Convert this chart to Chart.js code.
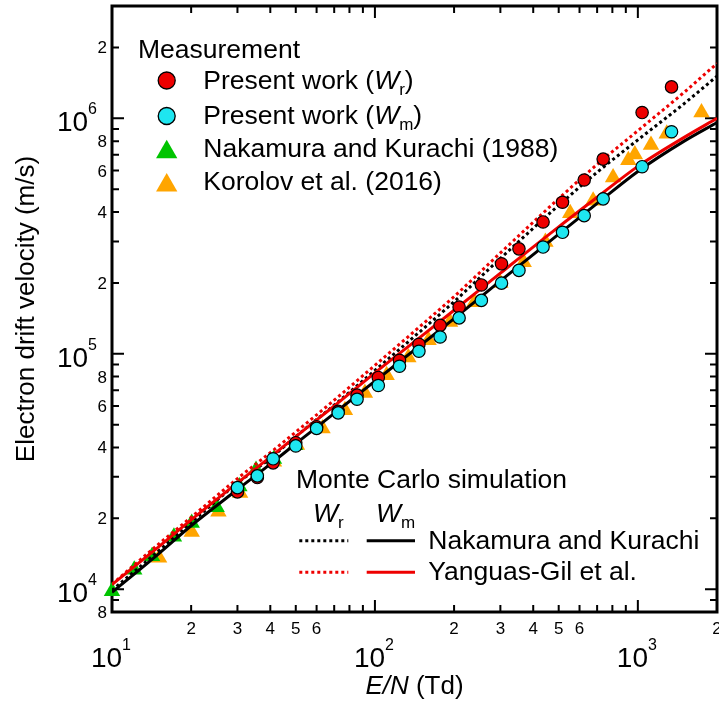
<!DOCTYPE html>
<html lang="en">
<head>
<meta charset="UTF-8">
<title>Electron drift velocity vs E/N</title>
<script src="https://cdn.jsdelivr.net/npm/chart.js"></script>
<style>
    html, body { margin: 0; padding: 0; background: #fff; }
    #wrap { width: 719px; height: 710px; }
</style>
</head>
<body>
<div id="wrap"><canvas id="chart" width="719" height="710"></canvas></div>
<script>
// --- measurements ---
const measEN = [30, 35.7, 41, 50, 60, 72.5, 85.5, 103, 124, 147, 177, 209, 254, 303, 353, 436, 517, 625, 738, 1038, 1343];
const presentWr = [2.59e4, 2.98e4, 3.44e4, 4.19e4, 4.9e4, 5.7e4, 6.67e4, 7.93e4, 9.38e4, 1.097e5, 1.32e5, 1.58e5, 1.96e5, 2.41e5, 2.79e5, 3.63e5, 4.4e5, 5.47e5, 6.71e5, 1.058e6, 1.36e6];
const presentWm = [2.70e4, 3.03e4, 3.58e4, 4.06e4, 4.82e4, 5.61e4, 6.41e4, 7.33e4, 8.85e4, 1.025e5, 1.178e5, 1.42e5, 1.685e5, 1.995e5, 2.26e5, 2.84e5, 3.28e5, 3.86e5, 4.55e5, 6.23e5, 8.77e5];

const nakamuraEN = [10, 12.15, 14.2, 17.2, 20.1, 25, 30.5, 35.3, 41.3, 49.7];
const nakamuraW = [9.8e3, 1.21e4, 1.38e4, 1.67e4, 1.91e4, 2.23e4, 2.73e4, 3.21e4, 3.57e4, 4.09e4];

const korolovEN = [15.1, 20.1, 25.4, 30.7, 41.3, 50.5, 63.2, 76.9, 91.6, 110.8, 134, 160, 193, 239, 300, 368, 445, 553, 676, 805, 920, 974, 1122, 1288, 1746];
const korolovW = [1.36e4, 1.75e4, 2.13e4, 2.56e4, 3.48e4, 4.1e4, 4.82e4, 5.76e4, 6.82e4, 8.1e4, 9.65e4, 1.14e5, 1.365e5, 1.655e5, 2.0e5, 2.45e5, 2.98e5, 3.95e5, 4.47e5, 5.61e5, 6.63e5, 7.02e5, 7.7e5, 8.6e5, 1.058e6];

// --- Monte Carlo simulation ---
const mcEN = [10, 15, 20, 30, 40, 50, 70, 100, 150, 200, 300, 500, 700, 1000, 1500, 2000];
const nkWm = [9.7e3, 1.41e4, 1.86e4, 2.65e4, 3.4e4, 4.15e4, 5.58e4, 7.65e4, 1.093e5, 1.41e5, 2.04e5, 3.22e5, 4.35e5, 5.95e5, 8.0e5, 9.6e5];
const nkWr = [9.9e3, 1.45e4, 1.92e4, 2.82e4, 3.6e4, 4.45e4, 6.05e4, 8.5e4, 1.255e5, 1.665e5, 2.54e5, 4.27e5, 5.9e5, 8.1e5, 1.155e6, 1.51e6];
const ygWm = [1.045e4, 1.51e4, 1.97e4, 2.83e4, 3.64e4, 4.45e4, 6.0e4, 8.3e4, 1.185e5, 1.53e5, 2.2e5, 3.46e5, 4.62e5, 6.25e5, 8.3e5, 1.0e6];
const ygWr = [1.05e4, 1.55e4, 2.02e4, 2.95e4, 3.8e4, 4.65e4, 6.35e4, 8.93e4, 1.32e5, 1.75e5, 2.68e5, 4.56e5, 6.37e5, 8.86e5, 1.29e6, 1.71e6];

// --- axis ticks ---
const xTickValues = [10, 20, 30, 40, 50, 60, 70, 80, 90, 100, 200, 300, 400, 500, 600, 700, 800, 900, 1000, 2000];
const xTickLabels = ['10^1', '2', '3', '4', '5', '6', '', '', '', '10^2', '2', '3', '4', '5', '6', '', '', '', '10^3', '2'];
const yTickValues = [8e3, 9e3, 1e4, 2e4, 3e4, 4e4, 5e4, 6e4, 7e4, 8e4, 9e4, 1e5, 2e5, 3e5, 4e5, 5e5, 6e5, 7e5, 8e5, 9e5, 1e6, 2e6, 3e6];
const yTickLabels = ['8', '', '10^4', '2', '', '4', '', '6', '', '8', '', '10^5', '2', '', '4', '', '6', '', '8', '', '10^6', '2', ''];

const FAM = "'Liberation Sans', Arial, sans-serif";
const RED = '#ee0000', CYAN = '#1ee6f0', GREEN = '#00c400', ORANGE = '#ffa500';
const DOTS = [3, 3];

function font(size, style) {
    return (style ? style + ' ' : '') + size + 'px ' + FAM;
}

function pts(xs, ys) {
    return xs.map((x, i) => ({ x: x, y: ys[i] }));
}

// text made of runs (for italics, sub- and superscripts)
function drawRich(ctx, runs, x, y, align) {
    let total = 0;
    runs.forEach(r => { ctx.font = r.font; r.w = ctx.measureText(r.text).width; total += r.w; });
    let cx = align === 'center' ? x - total / 2 : (align === 'right' ? x - total : x);
    ctx.textAlign = 'left';
    ctx.textBaseline = 'alphabetic';
    runs.forEach(r => {
        ctx.font = r.font;
        ctx.fillText(r.text, cx, y + (r.dy || 0));
        cx += r.w;
    });
}

function isMajor(v) {
    return Math.abs(Math.log10(v) - Math.round(Math.log10(v))) < 1e-9;
}

function circle(ctx, x, y, r, fill) {
    ctx.beginPath();
    ctx.arc(x, y, r, 0, Math.PI * 2);
    ctx.fillStyle = fill;
    ctx.fill();
    ctx.lineWidth = 1.3;
    ctx.strokeStyle = '#000';
    ctx.stroke();
}

function triangle(ctx, x, y, r, fill) {
    ctx.beginPath();
    for (let i = 0; i < 3; i++) {
        const a = i * 2 * Math.PI / 3;
        const px = x + Math.sin(a) * r, py = y - Math.cos(a) * r;
        if (i === 0) ctx.moveTo(px, py); else ctx.lineTo(px, py);
    }
    ctx.closePath();
    ctx.fillStyle = fill;
    ctx.fill();
}

function hline(ctx, x1, x2, y, color, dash) {
    ctx.beginPath();
    ctx.setLineDash(dash || []);
    ctx.moveTo(x1, y);
    ctx.lineTo(x2, y);
    ctx.lineWidth = 3;
    ctx.strokeStyle = color;
    ctx.stroke();
    ctx.setLineDash([]);
}

const framePlugin = {
    id: 'frame',
    beforeDatasetsDraw(chart) {
        const ctx = chart.ctx, a = chart.chartArea;
        const xs = chart.scales.x, ys = chart.scales.y;
        ctx.save();
        ctx.strokeStyle = '#000';
        ctx.lineWidth = 2;
        xTickValues.forEach(v => {
            const px = xs.getPixelForValue(v);
            const len = isMajor(v) ? 12 : 7;
            ctx.beginPath();
            ctx.moveTo(px, a.bottom); ctx.lineTo(px, a.bottom - len);
            ctx.moveTo(px, a.top); ctx.lineTo(px, a.top + len);
            ctx.stroke();
        });
        yTickValues.forEach(v => {
            const py = ys.getPixelForValue(v);
            const len = isMajor(v) ? 12 : 7;
            ctx.beginPath();
            ctx.moveTo(a.left, py); ctx.lineTo(a.left + len, py);
            ctx.moveTo(a.right, py); ctx.lineTo(a.right - len, py);
            ctx.stroke();
        });
        ctx.lineWidth = 3;
        ctx.strokeRect(a.left, a.top, a.right - a.left, a.bottom - a.top);
        ctx.restore();
    },
    afterDraw(chart) {
        const ctx = chart.ctx, a = chart.chartArea;
        const xs = chart.scales.x, ys = chart.scales.y;
        ctx.save();
        ctx.fillStyle = '#000';

        // tick labels
        xTickValues.forEach((v, i) => {
            const lab = xTickLabels[i];
            if (!lab) return;
            const px = xs.getPixelForValue(v);
            if (lab.includes('^')) {
                const [b, e] = lab.split('^');
                drawRich(ctx, [{ text: b, font: font(28) }, { text: e, font: font(16), dy: -17.5 }], px - 1, 667, 'center');
            } else {
                drawRich(ctx, [{ text: lab, font: font(17) }], px, 634, 'center');
            }
        });
        yTickValues.forEach((v, i) => {
            const lab = yTickLabels[i];
            if (!lab) return;
            const py = ys.getPixelForValue(v);
            if (lab.includes('^')) {
                const [b, e] = lab.split('^');
                drawRich(ctx, [{ text: b, font: font(28) }, { text: e, font: font(16), dy: -17 }], 97, py + 13, 'right');
            } else {
                drawRich(ctx, [{ text: lab, font: font(17) }], 107, py + 6, 'right');
            }
        });

        // axis titles
        drawRich(ctx, [{ text: 'E/N', font: font(26, 'italic') }, { text: ' (Td)', font: font(26) }], (a.left + a.right) / 2, 694, 'center');
        ctx.save();
        ctx.translate(33.5, (a.top + a.bottom) / 2);
        ctx.rotate(-Math.PI / 2);
        drawRich(ctx, [{ text: 'Electron drift velocity (m/s)', font: font(26) }], 0, 0, 'center');
        ctx.restore();

        // legend: measurement
        const F = font(26.5), FI = font(26.5, 'italic'), FS = font(17);
        drawRich(ctx, [{ text: 'Measurement', font: F }], 138, 58, 'left');
        circle(ctx, 166.7, 80.5, 8.5, RED);
        circle(ctx, 166.7, 116, 8.5, CYAN);
        triangle(ctx, 166.7, 152, 12.3, GREEN);
        triangle(ctx, 166.7, 185.3, 12.3, ORANGE);
        ctx.fillStyle = '#000';
        drawRich(ctx, [{ text: 'Present work (', font: F }, { text: 'W', font: FI }, { text: 'r', font: FS, dy: 6 }, { text: ')', font: F }], 203.3, 89.3, 'left');
        drawRich(ctx, [{ text: 'Present work (', font: F }, { text: 'W', font: FI }, { text: 'm', font: FS, dy: 6 }, { text: ')', font: F }], 203.3, 123.5, 'left');
        drawRich(ctx, [{ text: 'Nakamura and Kurachi (1988)', font: F }], 203.3, 157.3, 'left');
        drawRich(ctx, [{ text: 'Korolov et al. (2016)', font: F }], 203.3, 190.3, 'left');

        // legend: Monte Carlo simulation
        drawRich(ctx, [{ text: 'Monte Carlo simulation', font: F }], 296, 488, 'left');
        drawRich(ctx, [{ text: 'W', font: FI }, { text: 'r', font: FS, dy: 6.5 }], 313, 521.7, 'left');
        drawRich(ctx, [{ text: 'W', font: FI }, { text: 'm', font: FS, dy: 6.5 }], 376, 521.7, 'left');
        hline(ctx, 299.3, 348.3, 540.7, '#000', DOTS);
        hline(ctx, 366.7, 415, 540.7, '#000');
        hline(ctx, 299.3, 348.3, 572.3, RED, DOTS);
        hline(ctx, 366.7, 415, 572.3, RED);
        ctx.fillStyle = '#000';
        drawRich(ctx, [{ text: 'Nakamura and Kurachi', font: F }], 428.3, 549, 'left');
        drawRich(ctx, [{ text: 'Yanguas-Gil et al.', font: F }], 428.3, 580, 'left');
        ctx.restore();
    }
};

function mcLine(ys, color, dotted, order) {
    return {
        data: pts(mcEN, ys), showLine: true, pointRadius: 0, borderColor: color,
        borderWidth: 3, borderDash: dotted ? DOTS : [], cubicInterpolationMode: 'monotone', order: order
    };
}

new Chart(document.getElementById('chart'), {
    type: 'scatter',
    data: {
        datasets: [
            { data: pts(measEN, presentWm), pointStyle: 'circle', pointRadius: 6.2, backgroundColor: CYAN, borderColor: '#000', borderWidth: 1.2, clip: false, order: 0 },
            { data: pts(measEN, presentWr), pointStyle: 'circle', pointRadius: 6.2, backgroundColor: RED, borderColor: '#000', borderWidth: 1.2, clip: false, order: 1 },
            mcLine(ygWm, RED, false, 2),
            mcLine(nkWm, '#000', false, 3),
            mcLine(ygWr, RED, true, 4),
            mcLine(nkWr, '#000', true, 5),
            { data: pts(nakamuraEN, nakamuraW), pointStyle: 'triangle', pointRadius: 9.5, backgroundColor: GREEN, borderWidth: 0, clip: false, order: 6 },
            { data: pts(korolovEN, korolovW), pointStyle: 'triangle', pointRadius: 9.5, backgroundColor: ORANGE, borderWidth: 0, clip: false, order: 7 }
        ]
    },
    options: {
        responsive: false,
        animation: false,
        layout: { autoPadding: false, padding: { top: 6, right: 2, left: 0, bottom: 0 } },
        plugins: { legend: { display: false }, tooltip: { enabled: false } },
        scales: {
            x: {
                type: 'logarithmic', min: 10, max: 2000,
                grid: { display: false }, border: { display: false }, ticks: { display: false },
                afterBuildTicks: s => { s.ticks = xTickValues.map(v => ({ value: v })); },
                afterFit: s => { s.height = 98; }
            },
            y: {
                type: 'logarithmic', min: 8000, max: 3e6,
                grid: { display: false }, border: { display: false }, ticks: { display: false },
                afterBuildTicks: s => { s.ticks = yTickValues.map(v => ({ value: v })); },
                afterFit: s => { s.width = 112; }
            }
        }
    },
    plugins: [framePlugin]
});
</script>
</body>
</html>
